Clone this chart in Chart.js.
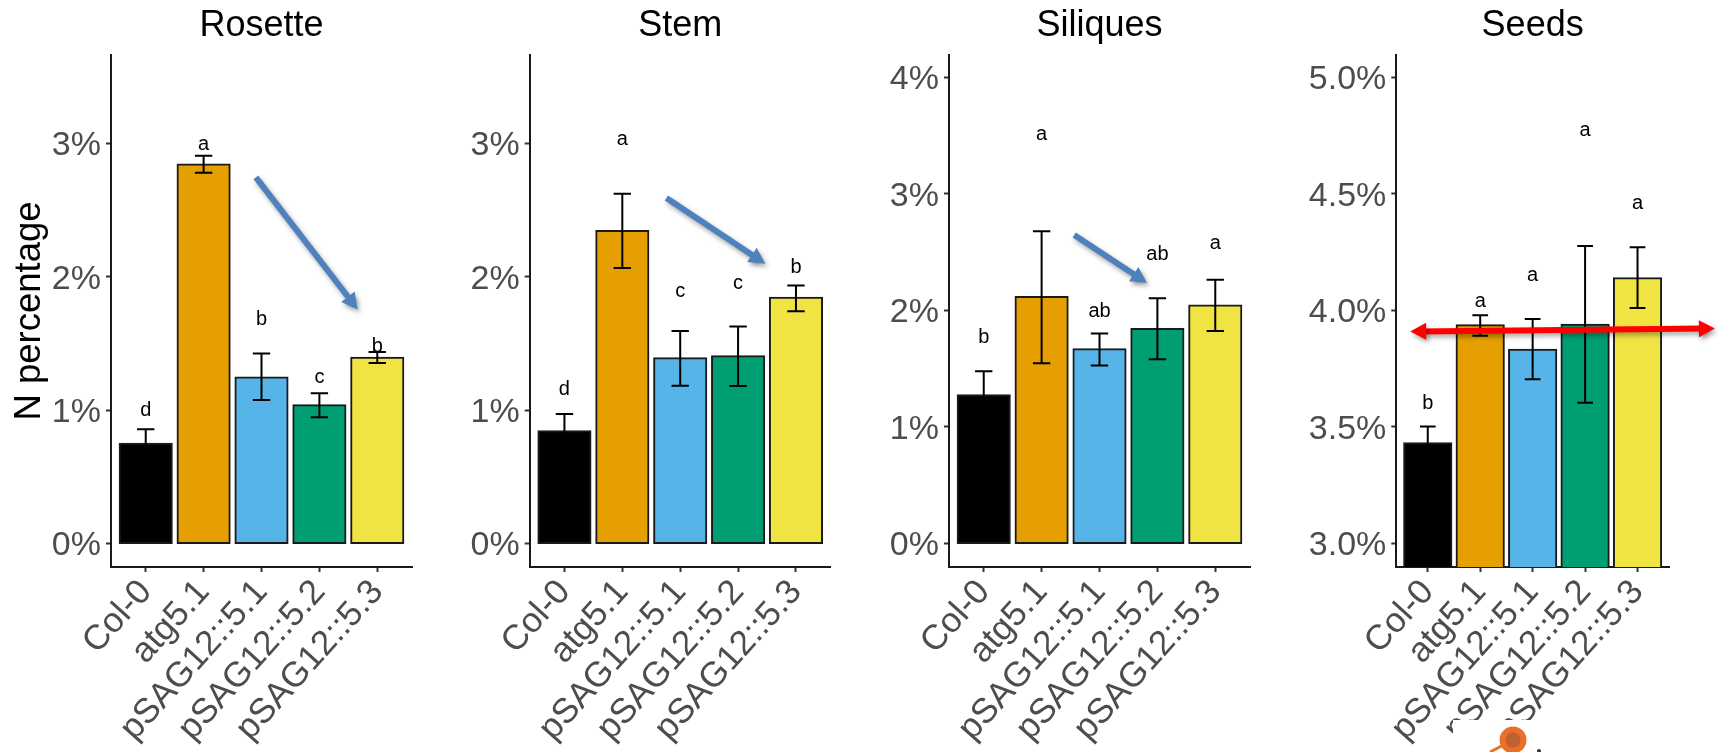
<!DOCTYPE html>
<html>
<head>
<meta charset="utf-8">
<title>N percentage</title>
<script src="https://cdn.jsdelivr.net/npm/chart.js@4"></script>
<style>
    html, body { margin: 0; padding: 0; background: #fff; overflow: hidden; }
    #wrap { position: relative; width: 1720px; height: 752px; overflow: hidden; }
    canvas { position: absolute; top: 0; }
</style>
</head>
<body>
<div id="wrap">
    <canvas id="rosette" style="left:0"></canvas>
    <canvas id="stem" style="left:430px"></canvas>
    <canvas id="siliques" style="left:850px"></canvas>
    <canvas id="seeds" style="left:1270px"></canvas>
</div>
<script>
const categories = ['Col-0', 'atg5.1', 'pSAG12::5.1', 'pSAG12::5.2', 'pSAG12::5.3'];
const barColors = ['#000000', '#E69F00', '#56B4E9', '#009E73', '#F0E442'];

const rosetteValues = [0.748, 2.842, 1.245, 1.036, 1.392];
const rosetteLow = [0.640, 2.780, 1.076, 0.946, 1.353];
const rosetteHigh = [0.856, 2.906, 1.424, 1.126, 1.435];
const rosetteLetters = ['d', 'a', 'b', 'c', 'b'];
const rosetteLetterY = [1.00, 2.99, 1.68, 1.245, 1.478];
const rosetteTicks = [0, 1, 2, 3];

const stemValues = [0.842, 2.342, 1.388, 1.403, 1.842];
const stemLow = [0.713, 2.065, 1.183, 1.180, 1.741];
const stemHigh = [0.971, 2.622, 1.594, 1.626, 1.935];
const stemLetters = ['d', 'a', 'c', 'c', 'b'];
const stemLetterY = [1.158, 3.032, 1.892, 1.946, 2.068];
const stemTicks = [0, 1, 2, 3];

const siliquesValues = [1.272, 2.115, 1.667, 1.840, 2.041];
const siliquesLow = [1.067, 1.547, 1.527, 1.580, 1.823];
const siliquesHigh = [1.477, 2.679, 1.802, 2.103, 2.263];
const siliquesLetters = ['b', 'a', 'ab', 'ab', 'a'];
const siliquesLetterY = [1.77, 3.51, 1.992, 2.481, 2.576];
const siliquesTicks = [0, 1, 2, 3, 4];

const seedsValues = [3.430, 3.936, 3.831, 3.938, 4.138];
const seedsLow = [3.358, 3.891, 3.704, 3.603, 4.010];
const seedsHigh = [3.502, 3.979, 3.963, 4.276, 4.270];
const seedsLetters = ['b', 'a', 'a', 'a', 'a'];
const seedsLetterY = [3.60, 4.039, 4.148, 4.772, 4.459];
const seedsTicks = [3, 3.5, 4, 4.5, 5];

// arrows drawn on top of the panels, [x0, y0, x1, y1] in axis units
const rosetteArrow = [2.903, 2.745, 4.662, 1.755];
const stemArrow = [2.761, 2.590, 4.470, 2.097];
const siliquesArrow = [2.563, 2.646, 3.822, 2.235];
const seedsArrow = [0.665, 3.909, 6.475, 3.922];

function drawHead(ctx, x, y, angle, len, half) {
    ctx.save();
    ctx.translate(x, y);
    ctx.rotate(angle);
    ctx.beginPath();
    ctx.moveTo(0, 0);
    ctx.lineTo(-len, -half);
    ctx.lineTo(-len, half);
    ctx.closePath();
    ctx.fill();
    ctx.restore();
}

// error bars, letters and the arrow
const overlayPlugin = {
    id: 'overlay',
    afterDatasetsDraw(chart, args, opts) {
        const { ctx, scales: { x, y } } = chart;
        ctx.save();
        ctx.strokeStyle = '#000';
        ctx.lineWidth = 2;
        categories.forEach((c, i) => {
            const px = x.getPixelForValue(i + 1);
            const cap = (x.getPixelForValue(1.15) - x.getPixelForValue(1));
            const lo = y.getPixelForValue(opts.low[i]);
            const hi = y.getPixelForValue(opts.high[i]);
            ctx.beginPath();
            ctx.moveTo(px, lo);
            ctx.lineTo(px, hi);
            ctx.moveTo(px - cap, lo);
            ctx.lineTo(px + cap, lo);
            ctx.moveTo(px - cap, hi);
            ctx.lineTo(px + cap, hi);
            ctx.stroke();
        });
        ctx.fillStyle = '#000';
        ctx.font = '20px "Liberation Sans"';
        ctx.textAlign = 'center';
        ctx.textBaseline = 'middle';
        opts.letters.forEach((t, i) => {
            ctx.fillText(t, x.getPixelForValue(i + 1), y.getPixelForValue(opts.letterY[i]));
        });

        const a = opts.arrow;
        const x0 = x.getPixelForValue(a[0]), y0 = y.getPixelForValue(a[1]);
        const x1 = x.getPixelForValue(a[2]), y1 = y.getPixelForValue(a[3]);
        const angle = Math.atan2(y1 - y0, x1 - x0);
        ctx.shadowColor = 'rgba(0,0,0,0.35)';
        ctx.shadowBlur = 5;
        ctx.shadowOffsetX = 2;
        ctx.shadowOffsetY = 3;
        ctx.strokeStyle = opts.arrowColor;
        ctx.fillStyle = opts.arrowColor;
        ctx.lineWidth = 6;
        ctx.beginPath();
        ctx.moveTo(x0 + (opts.both ? 10 * Math.cos(angle) : 0), y0 + (opts.both ? 10 * Math.sin(angle) : 0));
        ctx.lineTo(x1 - 10 * Math.cos(angle), y1 - 10 * Math.sin(angle));
        ctx.stroke();
        drawHead(ctx, x1, y1, angle, 16, 8.5);
        if (opts.both) drawHead(ctx, x0, y0, angle + Math.PI, 16, 8.5);
        ctx.restore();
    },
    afterDraw(chart, args, opts) {
        if (!opts.patch) return;
        // pasted logo scrap over the bottom of the seeds panel
        const { ctx } = chart;
        ctx.save();
        ctx.fillStyle = '#fff';
        ctx.fillRect(183, 720, 267, 32);
        ctx.strokeStyle = '#E8702A';
        ctx.lineWidth = 3;
        ctx.beginPath();
        ctx.moveTo(220, 752);
        ctx.lineTo(243, 740);
        ctx.stroke();
        ctx.fillStyle = '#E8702A';
        ctx.beginPath();
        ctx.arc(243, 740, 13.5, 0, Math.PI * 2);
        ctx.fill();
        ctx.fillStyle = '#BE6030';
        ctx.beginPath();
        ctx.arc(243, 740, 7.5, 0, Math.PI * 2);
        ctx.fill();
        ctx.fillStyle = '#333';
        ctx.beginPath();
        ctx.arc(269, 751, 2, 0, Math.PI * 2);
        ctx.fill();
        ctx.restore();
    }
};

function makePanel(id, width, axisX, title, values, low, high, letters, letterY, arrow, yTicks, yMin, yMax, fmt, extra) {
    const canvas = document.getElementById(id);
    canvas.width = width;
    canvas.height = 752;
    new Chart(canvas.getContext('2d'), {
        type: 'bar',
        data: {
            datasets: [{
                data: values.map((v, i) => ({ x: i + 1, y: v })),
                backgroundColor: barColors,
                borderColor: '#1a1a1a',
                borderWidth: 2,
                borderSkipped: false,
                inflateAmount: 1,
                barPercentage: 0.9,
                categoryPercentage: 1
            }]
        },
        plugins: [overlayPlugin],
        options: {
            responsive: false,
            animation: false,
            devicePixelRatio: 1,
            layout: { padding: { left: 0, right: width - extra.right, top: 0, bottom: 0 } },
            plugins: {
                legend: { display: false },
                tooltip: { enabled: false },
                title: {
                    display: true,
                    text: title,
                    color: '#000',
                    fullSize: false,
                    font: { family: 'Liberation Sans', size: 36, weight: 'normal', lineHeight: 1.2 },
                    padding: { top: 4, bottom: 7.8 }
                },
                overlay: {
                    low, high, letters, letterY, arrow,
                    arrowColor: extra.arrowColor,
                    both: extra.both,
                    patch: extra.patch
                }
            },
            scales: {
                x: {
                    type: 'linear',
                    offset: false,
                    min: 0.4,
                    max: 5.6,
                    afterBuildTicks: s => { s.ticks = categories.map((c, i) => ({ value: i + 1 })); },
                    afterFit: s => { s.height = 185; },
                    grid: { offset: false, drawOnChartArea: false, drawTicks: true, tickLength: 5, tickColor: '#333', tickWidth: 2 },
                    border: { display: true, color: '#1a1a1a', width: 2 },
                    ticks: {
                        autoSkip: false,
                        minRotation: 48,
                        maxRotation: 48,
                        padding: 0,
                        color: '#4D4D4D',
                        font: { family: 'Liberation Sans', size: 35 },
                        callback: v => categories[v - 1]
                    }
                },
                y: {
                    min: yMin,
                    max: yMax,
                    afterBuildTicks: s => { s.ticks = yTicks.map(v => ({ value: v })); },
                    afterFit: s => { s.width = axisX; },
                    grid: { drawOnChartArea: false, drawTicks: true, tickLength: 5, tickColor: '#333', tickWidth: 2 },
                    border: { display: true, color: '#1a1a1a', width: 2 },
                    title: {
                        display: !!extra.yTitle,
                        text: extra.yTitle,
                        color: '#000',
                        font: { family: 'Liberation Sans', size: 36.5 },
                        padding: { top: 8, bottom: 0 }
                    },
                    ticks: {
                        padding: 5,
                        labelOffset: 2.5,
                        color: '#4D4D4D',
                        font: { family: 'Liberation Sans', size: 34 },
                        callback: v => v.toFixed(fmt) + '%'
                    }
                }
            }
        }
    });
}

makePanel('rosette', 430, 111, 'Rosette', rosetteValues, rosetteLow, rosetteHigh, rosetteLetters, rosetteLetterY,
    rosetteArrow, rosetteTicks, -0.176, 3.662, 0, { right: 412, arrowColor: '#4F81BD', yTitle: 'N percentage' });
makePanel('stem', 420, 99.7, 'Stem', stemValues, stemLow, stemHigh, stemLetters, stemLetterY,
    stemArrow, stemTicks, -0.176, 3.662, 0, { right: 400.7, arrowColor: '#4F81BD' });
makePanel('siliques', 420, 99, 'Siliques', siliquesValues, siliquesLow, siliquesHigh, siliquesLetters, siliquesLetterY,
    siliquesArrow, siliquesTicks, -0.2016, 4.19, 0, { right: 400, arrowColor: '#4F81BD' });
makePanel('seeds', 450, 126.3, 'Seeds', seedsValues, seedsLow, seedsHigh, seedsLetters, seedsLetterY,
    seedsArrow, seedsTicks, 2.899, 5.095, 1, { right: 399, arrowColor: '#FF0000', both: true, patch: true });
</script>
</body>
</html>
